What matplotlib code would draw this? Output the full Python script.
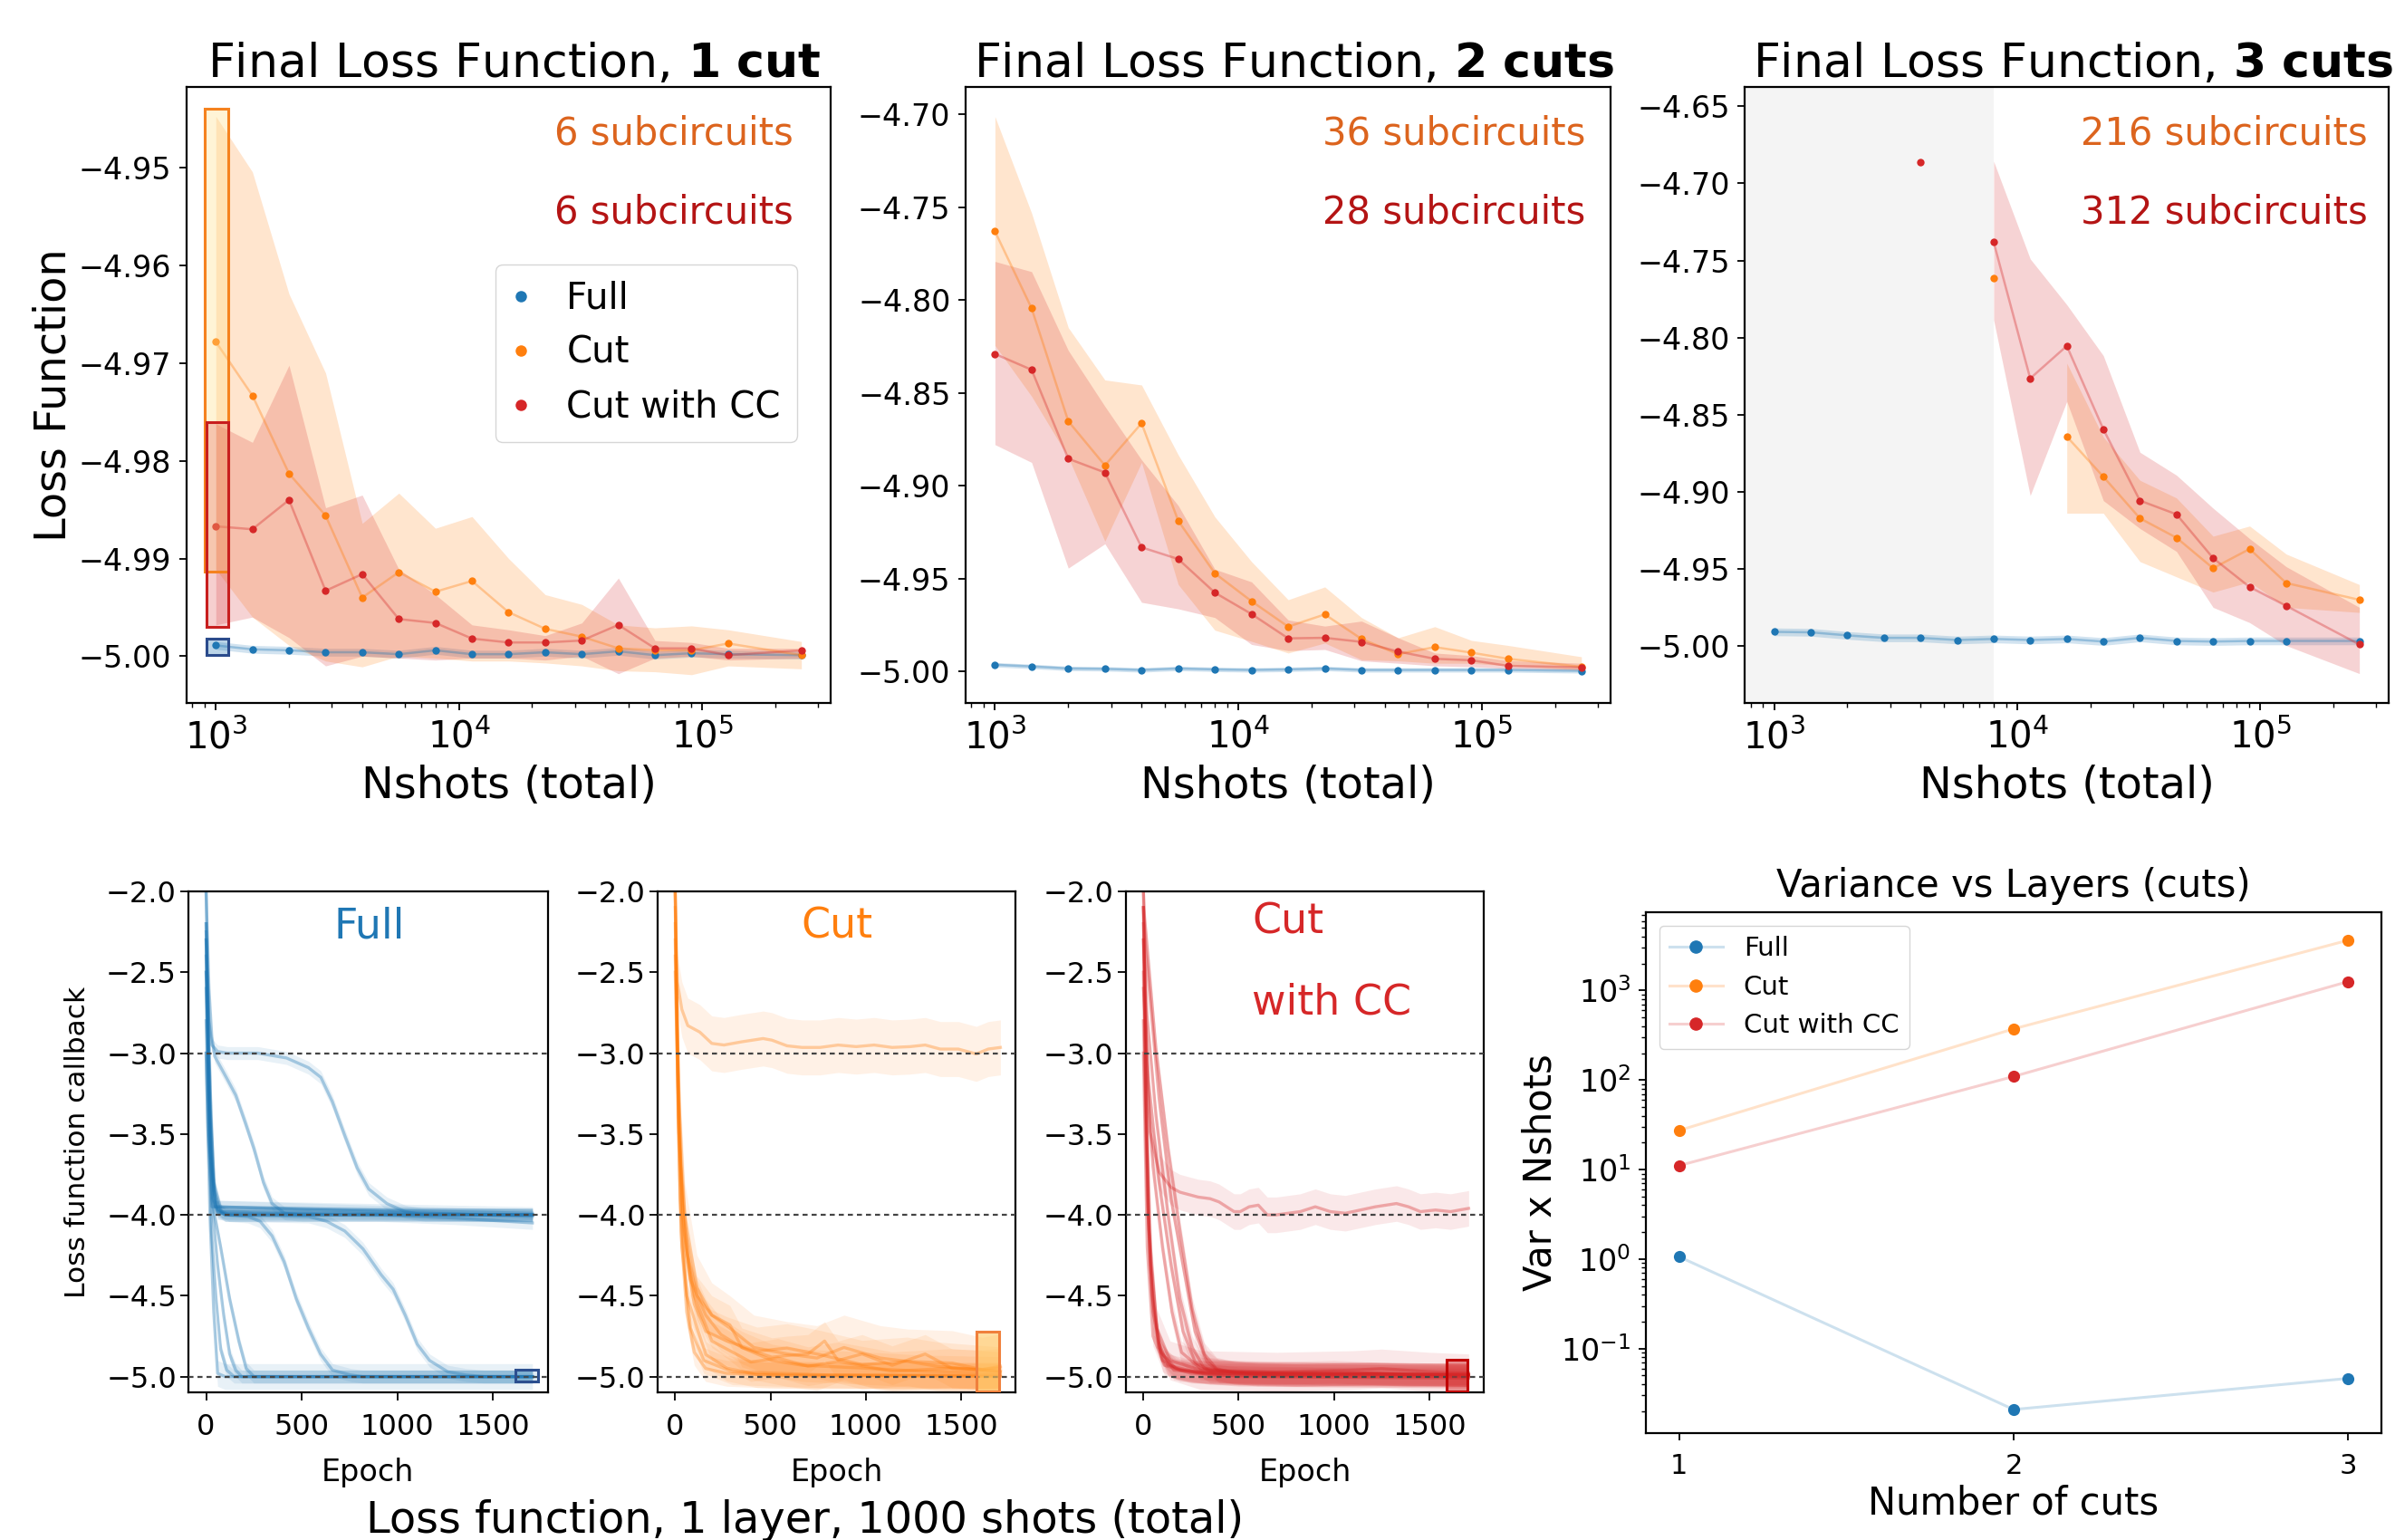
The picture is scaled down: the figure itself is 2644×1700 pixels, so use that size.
import numpy as np
import matplotlib
matplotlib.use("Agg")
import matplotlib.pyplot as plt
from matplotlib.patches import Rectangle
from matplotlib.lines import Line2D
from matplotlib.colors import to_rgba

nan = np.nan
BLUE, ORANGE, RED = "#1f77b4", "#ff7f0e", "#d62728"
TXT_OR, TXT_RED = "#dc641e", "#b41414"

# ------------------------------------------------------------------ top row data
nshots = [1000, 1414, 2000, 2828, 4000, 5657, 8000, 11314, 16000, 22627,
          32000, 45255, 64000, 90510, 128000, 256000]

p1_full = [-4.9989, -4.9993, -4.9994, -4.9996, -4.9996, -4.9998, -4.9994, -4.9998,
           -4.9998, -4.9996, -4.9998, -4.9995, -4.9999, -4.9997, -4.9998, -4.9999]
p1_full_hw = 0.0004
p1_cut = [-4.9678, -4.9733, -4.9813, -4.9856, -4.9940, -4.9914, -4.9934, -4.9923,
          -4.9955, -4.9972, -4.9980, -4.9992, -4.9994, -4.9994, -4.9987, -4.9999]
p1_cut_hi = [-4.9447, -4.9504, -4.9629, -4.9710, -4.9864, -4.9833, -4.9869, -4.9857,
             -4.9900, -4.9937, -4.9947, -4.9968, -4.9971, -4.9969, -4.9973, -4.9985]
p1_cut_lo = [-4.9911, -4.9960, -4.9989, -5.0005, -5.0011, -5.0000, -5.0002, -5.0005,
             -5.0005, -5.0007, -5.0010, -5.0015, -5.0016, -5.0019, -5.0010, -5.0013]
p1_cc = [-4.9867, -4.9870, -4.9840, -4.9933, -4.9916, -4.9962, -4.9966, -4.9982,
         -4.9986, -4.9986, -4.9984, -4.9968, -4.9992, -4.9992, -4.9999, -4.9994]
p1_cc_hi = [-4.9762, -4.9781, -4.9702, -4.9848, -4.9835, -4.9911, -4.9937, -4.9968,
            -4.9973, -4.9979, -4.9966, -4.9920, -4.9984, -4.9986, -4.9992, -4.9992]
p1_cc_lo = [-4.9968, -4.9960, -4.9981, -5.0010, -5.0000, -5.0002, -5.0004, -5.0002,
            -5.0002, -5.0004, -5.0000, -5.0018, -5.0002, -5.0000, -5.0004, -5.0002]

p2_full = [-4.9964, -4.9973, -4.9984, -4.9986, -4.9992, -4.9984, -4.9989, -4.9992,
           -4.9989, -4.9984, -4.9992, -4.9992, -4.9992, -4.9992, -4.9992, -4.9997]
p2_full_hw = 0.0012
p2_cut = [-4.7631, -4.8045, -4.8653, -4.8891, -4.8664, -4.9189, -4.9472, -4.9622,
          -4.9759, -4.9693, -4.9825, -4.9907, -4.9869, -4.9899, -4.9932, -4.9975]
p2_cut_hi = [-4.7013, -4.7533, -4.8149, -4.8431, -4.8458, -4.8834, -4.9168, -4.9409,
             -4.9614, -4.9545, -4.9710, -4.9819, -4.9759, -4.9833, -4.9860, -4.9921]
p2_cut_lo = [-4.8245, -4.8519, -4.8847, -4.9299, -4.8875, -4.9532, -4.9778, -4.9838,
             -4.9901, -4.9847, -4.9937, -4.9943, -4.9956, -4.9956, -4.9970, -4.9992]
p2_cc = [-4.8291, -4.8376, -4.8855, -4.8929, -4.9332, -4.9395, -4.9576, -4.9691,
         -4.9822, -4.9819, -4.9841, -4.9893, -4.9932, -4.9940, -4.9970, -4.9978]
p2_cc_hi = [-4.7793, -4.7848, -4.8272, -4.8573, -4.8861, -4.9107, -4.9450, -4.9518,
            -4.9723, -4.9756, -4.9729, -4.9819, -4.9901, -4.9915, -4.9942, -4.9956]
p2_cc_lo = [-4.8779, -4.8875, -4.9444, -4.9313, -4.9628, -4.9663, -4.9710, -4.9855,
            -4.9888, -4.9882, -4.9943, -4.9956, -4.9970, -4.9975, -4.9984, -4.9992]

p3_full = [-4.9911, -4.9914, -4.9934, -4.9950, -4.9950, -4.9964, -4.9957, -4.9964,
           -4.9957, -4.9974, -4.9950, -4.9970, -4.9974, -4.9970, -4.9970, -4.9970]
p3_full_hw = 0.0025
p3_cut = [nan, nan, nan, nan, nan, nan, -4.7616, nan,
          -4.8643, -4.8904, -4.9174, -4.9300, -4.9498, -4.9373, -4.9594, -4.9703]
p3_cut_hi = [nan, nan, nan, nan, nan, nan, nan, nan,
             -4.8167, -4.8646, -4.8927, -4.9042, -4.9290, -4.9224, -4.9406, -4.9604]
p3_cut_lo = [nan, nan, nan, nan, nan, nan, nan, nan,
             -4.9141, -4.9141, -4.9455, -4.9554, -4.9653, -4.9587, -4.9752, -4.9785]
p3_cc = [nan, nan, nan, nan, -4.6863, nan, -4.7381, -4.8266,
         -4.8055, -4.8596, -4.9059, -4.9148, -4.9432, -4.9620, -4.9742, -4.9993]
p3_cc_hi = [nan, nan, nan, nan, nan, nan, -4.6856, -4.7490,
            -4.7787, -4.8118, -4.8745, -4.8894, -4.9108, -4.9306, -4.9488, -4.9752]
p3_cc_lo = [nan, nan, nan, nan, nan, nan, -4.7886, -4.9026,
            -4.8415, -4.9059, -4.9240, -4.9389, -4.9752, -4.9851, -5.0000, -5.0182]
p3_excluded_upto = 8000

subcircuits_cut = ["6 subcircuits", "36 subcircuits", "216 subcircuits"]
subcircuits_cc = ["6 subcircuits", "28 subcircuits", "312 subcircuits"]
n_cut_labels = ["1 cut", "2 cuts", "3 cuts"]

# highlight boxes (final-loss spread at 1000 shots)
hl_top_x = [897, 1128]
hl_top_cut_y = [-4.9913, -4.9439]
hl_top_cc_x = [918, 1128]
hl_top_cc_y = [-4.9970, -4.9760]
hl_top_full_y = [-4.9999, -4.9982]

# ------------------------------------------------------------------ bottom row data (epoch, value, band half width)
full_runs = [
    ([0, 15, 30, 60, 110, 270, 420, 535, 600, 660, 725, 790, 850, 945, 1040, 1140, 1706],
     [-2.25, -2.80, -2.95, -2.99, -3.00, -3.00, -3.03, -3.09, -3.15, -3.30, -3.51, -3.71, -3.84, -3.93, -3.98, -4.00, -4.00], 0.04),
    ([0, 15, 30, 45, 110, 155, 205, 250, 300, 345, 410, 500, 1706],
     [-2.00, -2.60, -2.90, -3.02, -3.16, -3.26, -3.43, -3.59, -3.80, -3.93, -3.99, -4.00, -4.00], 0.04),
    ([0, 20, 40, 60, 100, 218, 282, 345, 408, 472, 535, 598, 661, 756, 820, 1706],
     [-2.50, -3.30, -3.85, -3.97, -4.00, -4.01, -4.04, -4.13, -4.29, -4.52, -4.70, -4.86, -4.96, -4.99, -5.00, -5.00], 0.04),
    ([0, 20, 40, 60, 100, 535, 630, 725, 820, 915, 978, 1041, 1104, 1168, 1263, 1358, 1453, 1706],
     [-2.30, -3.40, -3.90, -3.98, -4.00, -4.01, -4.04, -4.10, -4.21, -4.37, -4.46, -4.62, -4.80, -4.90, -4.97, -4.99, -5.00, -5.00], 0.04),
    ([0, 15, 28, 52, 76, 108, 147, 1706],
     [-2.60, -3.50, -4.10, -4.52, -4.83, -4.96, -5.00, -5.00], 0.04),
    ([0, 15, 36, 60, 92, 123, 155, 187, 1706],
     [-2.40, -3.30, -4.00, -4.31, -4.62, -4.86, -4.96, -5.00, -5.00], 0.04),
    ([0, 15, 30, 44, 76, 123, 171, 210, 250, 1706],
     [-2.20, -3.20, -3.90, -4.00, -4.20, -4.52, -4.78, -4.95, -5.00, -5.00], 0.04),
    ([0, 20, 40, 60, 100, 1706],
     [-3.00, -4.00, -4.60, -4.98, -5.00, -5.00], 0.08),
    ([0, 10, 25, 45, 70, 120, 1706],
     [-2.00, -2.60, -3.40, -3.85, -3.97, -4.00, -4.00], 0.04),
    ([0, 15, 35, 60, 1706],
     [-2.80, -3.50, -3.90, -3.99, -4.00], 0.04),
    ([0, 20, 50, 100, 900, 1300, 1706],
     [-2.50, -3.60, -3.95, -4.00, -4.00, -4.02, -4.05], 0.04),
    ([0, 10, 30, 1706],
     [-3.00, -3.50, -3.95, -3.99], 0.04),
    ([0, 15, 40, 80, 1706],
     [-2.30, -3.00, -3.80, -3.98, -4.00], 0.04),
    ([0, 10, 25, 50, 1706],
     [-2.20, -2.90, -3.60, -3.95, -4.01], 0.04),
]

cut_runs = [
    ([0, 11, 35, 66, 129, 192, 256, 350, 461, 508, 587, 666, 760, 855, 950, 1044, 1139, 1233, 1312, 1391, 1486, 1580, 1643, 1707],
     [-2.00, -2.56, -2.73, -2.83, -2.87, -2.94, -2.95, -2.93, -2.91, -2.92, -2.955, -2.965, -2.965, -2.95, -2.96, -2.95, -2.965, -2.96, -2.95, -2.975, -2.975, -3.005, -2.975, -2.965], 0.17),
    ([0, 15, 30, 60, 100, 160, 271, 500, 1000, 1707],
     [-2.0, -3.2, -4.1, -4.6, -4.85, -4.95, -4.98, -4.99, -4.99, -4.99], 0.08),
    ([0, 15, 30, 66, 114, 192, 287, 350, 508, 587, 697, 784, 855, 981, 1139, 1312, 1454, 1612, 1707],
     [-2.1, -3.0, -3.7, -4.25, -4.5, -4.62, -4.68, -4.82, -4.88, -4.87, -4.86, -4.78, -4.90, -4.86, -4.93, -4.86, -4.95, -4.955, -4.947], 0.12),
    ([0, 20, 40, 80, 160, 240, 350, 508, 666, 981, 1297, 1707],
     [-2.3, -3.4, -4.0, -4.4, -4.62, -4.74, -4.82, -4.90, -4.93, -4.947, -4.967, -4.977], 0.10),
    ([0, 20, 45, 100, 192, 319, 397, 539, 697, 855, 1139, 1454, 1707],
     [-2.5, -3.5, -4.1, -4.5, -4.78, -4.86, -4.91, -4.885, -4.936, -4.906, -4.967, -4.947, -4.967], 0.12),
    ([0, 20, 50, 114, 192, 287, 413, 587, 744, 886, 1076, 1218, 1454, 1612, 1707],
     [-2.2, -3.3, -4.0, -4.45, -4.62, -4.70, -4.82, -4.86, -4.885, -4.82, -4.885, -4.906, -4.916, -4.957, -4.936], 0.20),
    ([0, 10, 25, 60, 161, 271, 429, 700, 1707],
     [-2.0, -3.0, -3.9, -4.5, -4.864, -4.947, -4.988, -4.996, -4.996], 0.08),
    ([0, 20, 50, 100, 161, 271, 429, 587, 760, 981, 1218, 1375, 1707],
     [-2.4, -3.5, -4.2, -4.55, -4.72, -4.78, -4.844, -4.823, -4.864, -4.926, -4.906, -4.936, -4.967], 0.15),
    ([0, 15, 35, 80, 150, 300, 800, 1707],
     [-2.0, -3.4, -4.2, -4.7, -4.9, -4.97, -4.99, -5.0], 0.08),
]

cc_runs = [
    ([0, 15, 35, 82, 145, 192, 287, 350, 397, 476, 508, 555, 603, 650, 697, 760, 823, 902, 981, 1060, 1139, 1218, 1328, 1391, 1454, 1533, 1612, 1659, 1707],
     [-2.10, -2.90, -3.49, -3.735, -3.83, -3.86, -3.89, -3.90, -3.92, -3.98, -3.98, -3.95, -3.94, -4.00, -4.00, -3.99, -3.98, -3.95, -3.98, -3.99, -3.97, -3.95, -3.93, -3.95, -3.98, -3.97, -3.98, -3.97, -3.96], 0.11),
    ([0, 6, 66, 129, 192, 256, 319, 382, 476, 800, 1200, 1707],
     [-2.0, -2.16, -2.98, -3.59, -4.10, -4.58, -4.86, -4.95, -4.977, -4.99, -4.98, -4.99], 0.07),
    ([0, 11, 82, 145, 208, 271, 334, 397, 700, 1707],
     [-2.1, -2.36, -3.28, -3.90, -4.31, -4.72, -4.91, -4.967, -4.98, -4.99], 0.07),
    ([0, 19, 66, 129, 192, 256, 319, 600, 1707],
     [-2.3, -2.77, -3.39, -4.00, -4.52, -4.82, -4.947, -4.99, -5.0], 0.07),
    ([0, 27, 82, 145, 208, 271, 350, 900, 1707],
     [-2.6, -3.18, -3.80, -4.31, -4.72, -4.91, -4.967, -4.98, -4.99], 0.07),
    ([0, 10, 25, 50, 100, 192, 400, 800, 1200, 1707],
     [-2.1, -3.0, -4.0, -4.6, -4.9, -4.96, -4.98, -4.99, -4.98, -4.99], 0.07),
    ([0, 15, 35, 66, 129, 271, 600, 1000, 1400, 1707],
     [-2.5, -3.5, -4.3, -4.75, -4.93, -4.97, -4.98, -4.97, -4.99, -4.98], 0.07),
    ([0, 20, 45, 90, 170, 350, 900, 1707],
     [-2.8, -3.9, -4.5, -4.85, -4.95, -4.99, -5.0, -5.0], 0.06),
    ([0, 12, 30, 70, 140, 300, 700, 1100, 1250, 1500, 1707],
     [-2.3, -3.2, -4.1, -4.7, -4.9, -4.96, -4.97, -4.96, -4.95, -4.97, -4.98], 0.12),
    ([0, 15, 40, 80, 160, 500, 1707],
     [-2.0, -3.3, -4.3, -4.82, -4.96, -5.0, -5.01], 0.06),
    ([0, 20, 50, 110, 250, 1707],
     [-3.0, -4.2, -4.75, -4.93, -4.98, -4.99], 0.06),
    ([0, 20, 50, 100, 150, 200, 300, 500, 1707],
     [-2.2, -3.2, -3.7, -4.2, -4.6, -4.85, -4.95, -4.98, -4.99], 0.07),
]
plateaus = [-3.0, -4.0, -5.0]
# final-epoch highlight boxes [x0, x1, y0, y1]
box_full = [1619, 1737, -5.029, -4.959]
box_cut = [1580, 1699, -5.090, -4.721]
box_cc = [1593, 1702, -5.090, -4.895]

# ------------------------------------------------------------------ variance panel data
n_cuts = [1, 2, 3]
var_full = [1.06, 0.0209, 0.0465]
var_cut = [27.4, 373, 3640]
var_cc = [11.1, 109.6, 1257]

# ------------------------------------------------------------------ figure
fig = plt.figure(figsize=(26.44, 17.0), dpi=100)

top_axes = [fig.add_axes([0.0779, 0.5435, 0.2689, 0.4]),
            fig.add_axes([0.4032, 0.5435, 0.2693, 0.4]),
            fig.add_axes([0.7286, 0.5435, 0.2687, 0.4])]

top_data = [
    (p1_full, p1_full_hw, p1_cut, p1_cut_lo, p1_cut_hi, p1_cc, p1_cc_lo, p1_cc_hi),
    (p2_full, p2_full_hw, p2_cut, p2_cut_lo, p2_cut_hi, p2_cc, p2_cc_lo, p2_cc_hi),
    (p3_full, p3_full_hw, p3_cut, p3_cut_lo, p3_cut_hi, p3_cc, p3_cc_lo, p3_cc_hi),
]
top_ylims = [(-5.0048, -4.9417), (-5.017, -4.6854), (-5.0373, -4.6374)]
top_yticks = [[-5.00, -4.99, -4.98, -4.97, -4.96, -4.95],
              [-5.00, -4.95, -4.90, -4.85, -4.80, -4.75, -4.70],
              [-5.00, -4.95, -4.90, -4.85, -4.80, -4.75, -4.70, -4.65]]
annot_x = [0.942, 0.961, 0.967]

x = np.array(nshots, float)
for i, ax in enumerate(top_axes):
    full, fhw, cut, cut_lo, cut_hi, cc, cc_lo, cc_hi = [np.array(v, float) if not np.isscalar(v) else v
                                                       for v in top_data[i]]
    ax.set_xscale("log")
    ax.set_xlim(758, 3.376e5)
    ax.set_ylim(*top_ylims[i])
    if i == 2:
        ax.axvspan(100, p3_excluded_upto, color="0.955", lw=0, zorder=0)
    ax.fill_between(x, full - fhw, full + fhw, color=BLUE, alpha=0.2, lw=0)
    ax.fill_between(x, cut_lo, cut_hi, color=ORANGE, alpha=0.2, lw=0)
    ax.fill_between(x, cc_lo, cc_hi, color=RED, alpha=0.2, lw=0)
    for y, c in ((full, BLUE), (cut, ORANGE), (cc, RED)):
        ax.plot(x, y, color=c, alpha=0.35, lw=1.8)
        ax.plot(x, y, "o", color=c, ms=6, mec="none")
    ax.set_yticks(top_yticks[i])
    ax.set_yticklabels([f"{t:.2f}".replace("-", "\u2212") for t in top_yticks[i]])
    ax.tick_params(axis="y", labelsize=24, length=6, width=1.3, pad=6)
    ax.tick_params(axis="x", which="major", labelsize=29, length=6, width=1.3, pad=7)
    ax.tick_params(axis="x", which="minor", length=3.5, width=1.0)
    ax.set_xlabel("Nshots (total)", fontsize=34.5, labelpad=6)
    ax.set_title(r"Final Loss Function, $\mathbf{" + n_cut_labels[i].replace(" ", r"\ ") + "}$",
                 fontsize=37.5, pad=4, x=0.509)
    ax.text(annot_x[i], 0.925, subcircuits_cut[i], transform=ax.transAxes, ha="right",
            va="center", fontsize=30, color=TXT_OR)
    ax.text(annot_x[i], 0.797, subcircuits_cc[i], transform=ax.transAxes, ha="right",
            va="center", fontsize=30, color=TXT_RED)
    for s in ax.spines.values():
        s.set_linewidth(1.6)

ax1 = top_axes[0]
ax1.set_ylabel("Loss Function", fontsize=34.5, labelpad=3)
ax1.add_patch(Rectangle((hl_top_x[0], hl_top_cut_y[0]), hl_top_x[1] - hl_top_x[0],
                        hl_top_cut_y[1] - hl_top_cut_y[0], facecolor="#ffe08a", alpha=0.35,
                        edgecolor="none", zorder=4))
ax1.add_patch(Rectangle((hl_top_x[0], hl_top_cut_y[0]), hl_top_x[1] - hl_top_x[0],
                        hl_top_cut_y[1] - hl_top_cut_y[0], facecolor="none",
                        edgecolor="#f5821f", lw=2.2, zorder=5))
ax1.add_patch(Rectangle((hl_top_cc_x[0], hl_top_cc_y[0]), hl_top_cc_x[1] - hl_top_cc_x[0],
                        hl_top_cc_y[1] - hl_top_cc_y[0], facecolor=RED, alpha=0.22,
                        edgecolor="none", zorder=4))
ax1.add_patch(Rectangle((hl_top_cc_x[0], hl_top_cc_y[0]), hl_top_cc_x[1] - hl_top_cc_x[0],
                        hl_top_cc_y[1] - hl_top_cc_y[0], facecolor="none",
                        edgecolor="#c81e1e", lw=2.2, zorder=5))
ax1.add_patch(Rectangle((hl_top_cc_x[0], hl_top_full_y[0]), hl_top_cc_x[1] - hl_top_cc_x[0],
                        hl_top_full_y[1] - hl_top_full_y[0], facecolor=BLUE, alpha=0.3,
                        edgecolor="none", zorder=4))
ax1.add_patch(Rectangle((hl_top_cc_x[0], hl_top_full_y[0]), hl_top_cc_x[1] - hl_top_cc_x[0],
                        hl_top_full_y[1] - hl_top_full_y[0], facecolor="none",
                        edgecolor="#2b4b8c", lw=2.2, zorder=5))
handles = [Line2D([], [], marker="o", ls="none", color=c, ms=9, mec="none")
           for c in (BLUE, ORANGE, RED)]
ax1.legend(handles, ["Full", "Cut", "Cut with CC"], loc="upper right",
           bbox_to_anchor=(0.948, 0.7125), borderaxespad=0, fontsize=29,
           handlelength=0.5, handletextpad=1.0, labelspacing=0.5, borderpad=0.45)

# ------------------------------------------------------------------ bottom training panels
bot_axes = [fig.add_axes([0.0787, 0.0956, 0.15, 0.3256]),
            fig.add_axes([0.2746, 0.0956, 0.1494, 0.3256]),
            fig.add_axes([0.4701, 0.0956, 0.1494, 0.3256])]
bot_runs = [full_runs, cut_runs, cc_runs]
bot_colors = [BLUE, ORANGE, RED]
bot_boxes = [box_full, box_cut, box_cc]
box_edges = ["#2c4f8f", "#f0803c", "#c00000"]
box_faces = [(BLUE, 0.15), ("#ffc861", 0.6), (RED, 0.45)]

for ax, runs, col, box, be, (bf, ba) in zip(bot_axes, bot_runs, bot_colors, bot_boxes,
                                             box_edges, box_faces):
    for ep, val, hw in runs:
        ep = np.array(ep, float)
        val = np.array(val, float)
        ax.fill_between(ep, val - hw, val + hw, color=col, alpha=0.1, lw=0)
        ax.plot(ep, val, color=col, alpha=0.35, lw=2.4)
    for p in plateaus:
        ax.axhline(p, color="#444444", lw=1.6, ls=(0, (2.5, 2.0)), zorder=3)
    ax.add_patch(Rectangle((box[0], box[2]), box[1] - box[0], box[3] - box[2],
                           facecolor=bf, alpha=ba, edgecolor="none", zorder=4))
    ax.add_patch(Rectangle((box[0], box[2]), box[1] - box[0], box[3] - box[2],
                           facecolor="none", edgecolor=be, lw=2.2, zorder=5))
    ax.set_xlim(-92, 1786)
    ax.set_ylim(-5.1, -2.0)
    ax.set_xticks([0, 500, 1000, 1500])
    ax.set_yticks([-5.0, -4.5, -4.0, -3.5, -3.0, -2.5, -2.0])
    ax.tick_params(axis="both", labelsize=23, length=6.5, width=1.3)
    ax.tick_params(axis="y", pad=3)
    ax.tick_params(axis="x", pad=10)
    ax.set_xlabel("Epoch", fontsize=24, labelpad=13)
    for s in ax.spines.values():
        s.set_linewidth(1.6)

bot_axes[0].set_ylabel("Loss function callback", fontsize=22.5, labelpad=12)
bot_axes[0].text(0.503, 0.93, "Full", transform=bot_axes[0].transAxes, color=BLUE,
                 fontsize=33, ha="center", va="center")
bot_axes[1].text(0.50, 0.93, "Cut", transform=bot_axes[1].transAxes, color=ORANGE,
                 fontsize=33, ha="center", va="center")
bot_axes[2].text(0.352, 0.939, "Cut", transform=bot_axes[2].transAxes, color=RED,
                 fontsize=33, ha="left", va="center")
bot_axes[2].text(0.352, 0.778, "with CC", transform=bot_axes[2].transAxes, color=RED,
                 fontsize=33, ha="left", va="center")
fig.text(0.336, 0.0128, "Loss function, 1 layer, 1000 shots (total)", ha="center",
         va="center", fontsize=34.5)

# ------------------------------------------------------------------ variance panel
axv = fig.add_axes([0.6872, 0.0694, 0.3071, 0.3382])
axv.set_yscale("log")
for y, c, lab in ((var_full, BLUE, "Full"), (var_cut, ORANGE, "Cut"), (var_cc, RED, "Cut with CC")):
    axv.plot(n_cuts, y, color=c, alpha=0.22, lw=2.2)
    axv.plot(n_cuts, y, "o", color=c, ms=9.5, mec="none")
vh = [Line2D([], [], color=to_rgba(c, 0.22), lw=2.2, marker="o", ms=9.5, mec=c, mfc=c)
      for c in (BLUE, ORANGE, RED)]
axv.legend(vh, ["Full", "Cut", "Cut with CC"], loc="upper left", fontsize=21)
axv.set_xlim(0.9, 3.1)
axv.set_ylim(0.01138, 7480)
axv.set_xticks(n_cuts)
axv.tick_params(axis="x", labelsize=22, length=6, width=1.3, pad=10)
axv.tick_params(axis="y", which="major", labelsize=24, length=6, width=1.3, pad=6)
axv.tick_params(axis="y", which="minor", length=3.5, width=1.0)
axv.set_xlabel("Number of cuts", fontsize=30, labelpad=4)
axv.set_ylabel("Var x Nshots", fontsize=30, labelpad=1)
axv.set_title("Variance vs Layers (cuts)", fontsize=30, pad=12)
for s in axv.spines.values():
    s.set_linewidth(1.6)

fig.savefig("out.png", dpi=100)
